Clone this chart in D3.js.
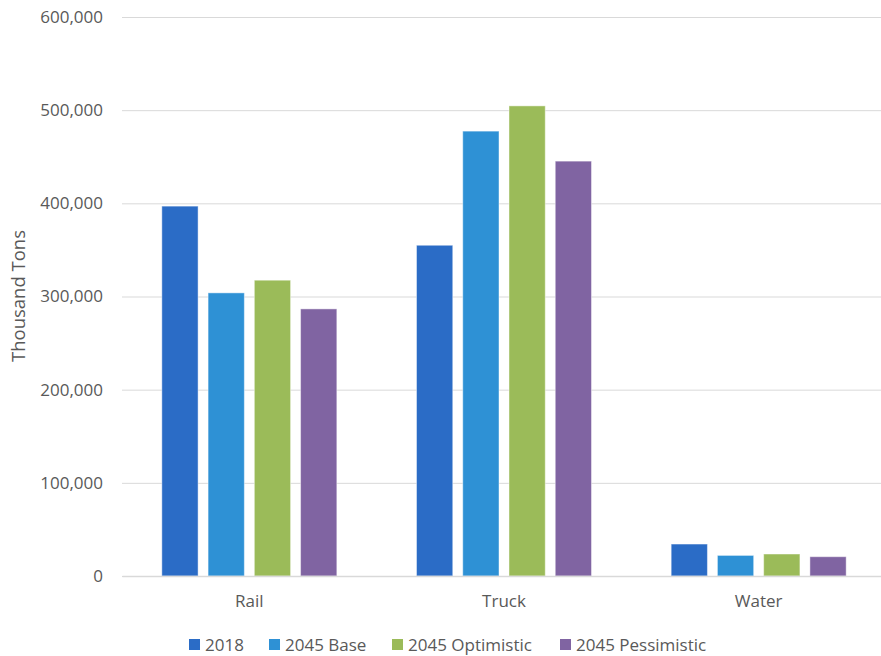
<!DOCTYPE html>
<html>
<head>
<meta charset="utf-8">
<script src="https://cdn.jsdelivr.net/npm/d3@7"></script>
<style>
  html, body { margin: 0; padding: 0; background: #fff; }
  svg { display: block; font-family: "Open Sans", "Noto Sans", sans-serif; }
</style>
</head>
<body>
<svg id="chart" width="881" height="656"></svg>
<script>
// Freight tonnage by mode, 2018 vs. 2045 scenarios
const modes = ["Rail", "Truck", "Water"];
const series = ["2018", "2045 Base", "2045 Optimistic", "2045 Pessimistic"];
const v2018 = [397000, 355000, 34300];
const vBase = [303900, 477500, 22100];
const vOptimistic = [317500, 504600, 23600];
const vPessimistic = [286700, 445300, 20700];
const yTicks = [0, 100000, 200000, 300000, 400000, 500000, 600000];
const colors = ["#2B6CC6", "#2E91D5", "#9BBB59", "#8064A2"];

const seriesValues = [v2018, vBase, vOptimistic, vPessimistic];

const svg = d3.select("#chart");
const plot = { left: 122, right: 886, top: 17, bottom: 576 };
const textColor = "#595959";
const gridColor = "#d9d9d9";

const x0 = d3.scaleBand().domain(modes).range([plot.left, plot.right]).padding(0);
const groupW = 175;
const x1 = d3.scaleBand().domain(series)
  .range([(x0.bandwidth() - groupW) / 2, (x0.bandwidth() + groupW) / 2])
  .paddingInner(0.216).paddingOuter(0);
const y = d3.scaleLinear().domain([0, 600000]).range([plot.bottom, plot.top]);

// Horizontal gridlines
const yAxis = d3.axisLeft(y).tickValues(yTicks)
  .tickFormat(d3.format(","))
  .tickSize(-(plot.right - plot.left)).tickPadding(19);
const gy = svg.append("g").attr("transform", `translate(${plot.left},0)`).call(yAxis);
gy.select(".domain").remove();
gy.selectAll(".tick line").attr("stroke", gridColor).attr("stroke-width", 1);
gy.selectAll(".tick text").attr("fill", textColor).attr("font-size", 17)
  .attr("font-family", "'Open Sans', sans-serif");

// Bars
const groups = svg.append("g").selectAll("g")
  .data(modes).join("g")
  .attr("transform", d => `translate(${x0(d)},0)`);
groups.selectAll("rect")
  .data((m, i) => series.map((s, j) => ({ s, j, v: seriesValues[j][i] })))
  .join("rect")
  .attr("x", d => x1(d.s))
  .attr("width", x1.bandwidth())
  .attr("y", d => y(d.v))
  .attr("height", d => y(0) - y(d.v))
  .attr("fill", d => colors[d.j])
  .attr("stroke", "rgba(255,255,255,0.45)")
  .attr("stroke-width", 1);

// Category axis
const xAxis = d3.axisBottom(x0).tickSize(0).tickPadding(19);
const gx = svg.append("g").attr("transform", `translate(0,${plot.bottom})`).call(xAxis);
gx.select(".domain").attr("stroke", gridColor).attr("stroke-width", 1.5);
gx.selectAll(".tick text").attr("fill", textColor).attr("font-size", 17)
  .attr("font-family", "'Open Sans', sans-serif");

// Y axis title
svg.append("text")
  .attr("transform", "translate(25,296) rotate(-90)")
  .attr("text-anchor", "middle")
  .attr("fill", textColor).attr("font-size", 18.5)
  .text("Thousand Tons");

// Legend
const legendX = [189, 269, 392, 560];
const legend = svg.append("g").selectAll("g")
  .data(series).join("g")
  .attr("transform", (d, i) => `translate(${legendX[i]},639)`);
legend.append("rect").attr("width", 11).attr("height", 11)
  .attr("fill", (d, i) => colors[i]);
legend.append("text").attr("x", 16).attr("y", 11.5)
  .attr("fill", textColor).attr("font-size", 17)
  .text(d => d);
</script>
</body>
</html>
